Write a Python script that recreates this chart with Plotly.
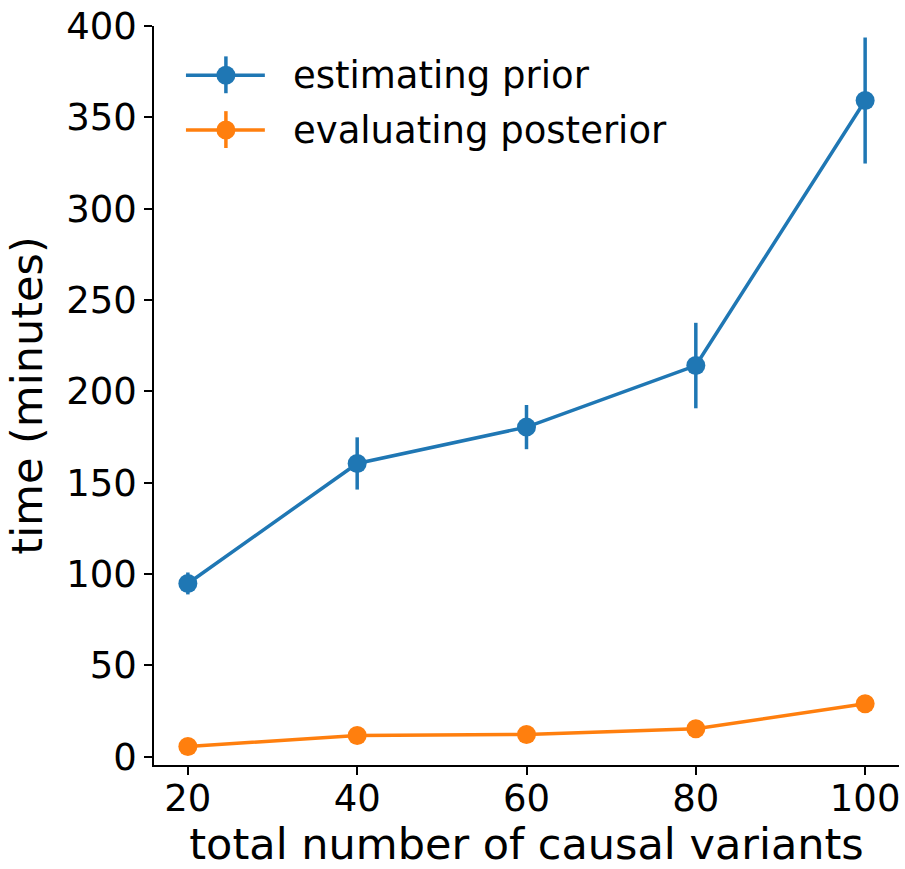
import plotly.graph_objects as go

# Runtime measurements for increasing numbers of causal variants
n_variants = [20, 40, 60, 80, 100]

prior_time = [94.8, 160.5, 180.4, 214.1, 359.2]
prior_err = [6.0, 14.3, 12.1, 23.4, 34.5]

posterior_time = [5.5, 11.6, 12.1, 15.2, 28.9]
posterior_err = [0.8, 0.8, 0.8, 0.9, 1.2]

series_names = ["estimating prior", "evaluating posterior"]
colors = ["#1f77b4", "#ff7f0e"]

FONT = "DejaVu Sans"
W, H = 905, 869
ML, MR, MT, MB = 154, 5, 23, 104
PW, PH = W - ML - MR, H - MT - MB

fig = go.Figure()
for name, ys, errs, col in [
    (series_names[0], prior_time, prior_err, colors[0]),
    (series_names[1], posterior_time, posterior_err, colors[1]),
]:
    fig.add_trace(go.Scatter(
        x=n_variants, y=ys, name=name, mode="lines+markers",
        line=dict(color=col, width=3.5),
        marker=dict(color=col, size=19),
        error_y=dict(type="data", array=errs, visible=True,
                     color=col, thickness=3.5, width=0),
        showlegend=False,
    ))


def px_x(px):
    return (px - ML) / PW


def px_y(py):
    return (H - MB - py) / PH


# Legend drawn by hand: line, marker, vertical error stroke and label
shapes = []
annotations = []
for i, (name, col) in enumerate(zip(series_names, colors)):
    cy = 72.5 + i * 55
    shapes.append(dict(type="line", xref="paper", yref="paper",
                       x0=px_x(186), x1=px_x(265), y0=px_y(cy), y1=px_y(cy),
                       line=dict(color=col, width=3.5)))
    shapes.append(dict(type="line", xref="paper", yref="paper",
                       x0=px_x(226), x1=px_x(226), y0=px_y(cy - 19), y1=px_y(cy + 18),
                       line=dict(color=col, width=3.5)))
    shapes.append(dict(type="circle", xref="paper", yref="paper",
                       xsizemode="pixel", ysizemode="pixel",
                       xanchor=px_x(226), yanchor=px_y(cy),
                       x0=-9.5, x1=9.5, y0=-9.5, y1=9.5,
                       fillcolor=col, line=dict(color=col, width=0)))
    annotations.append(dict(xref="paper", yref="paper", x=px_x(291), y=px_y(cy),
                            xanchor="left", yanchor="middle", showarrow=False,
                            text=name, font=dict(family=FONT, size=37, color="black")))

fig.update_layout(
    width=W, height=H,
    margin=dict(l=ML, r=MR, t=MT, b=MB),
    paper_bgcolor="white", plot_bgcolor="white",
    font=dict(family=FONT, color="black"),
    shapes=shapes, annotations=annotations,
)
fig.update_xaxes(
    range=[16, 104], tickvals=n_variants,
    showgrid=False, zeroline=False,
    showline=True, linecolor="black", linewidth=1.6,
    ticks="outside", ticklen=8, tickwidth=1.6, tickcolor="black",
    tickfont=dict(family=FONT, size=37), ticklabelstandoff=-8,
    title=dict(text="total number of causal variants",
               font=dict(family=FONT, size=43), standoff=6),
)
fig.update_yaxes(
    range=[-4.6, 400], tickvals=[0, 50, 100, 150, 200, 250, 300, 350, 400],
    showgrid=False, zeroline=False,
    showline=True, linecolor="black", linewidth=1.6,
    ticks="outside", ticklen=8, tickwidth=1.6, tickcolor="black",
    tickfont=dict(family=FONT, size=37),
    title=dict(text="time (minutes)", font=dict(family=FONT, size=43), standoff=10),
)

fig.write_html("out.html")
